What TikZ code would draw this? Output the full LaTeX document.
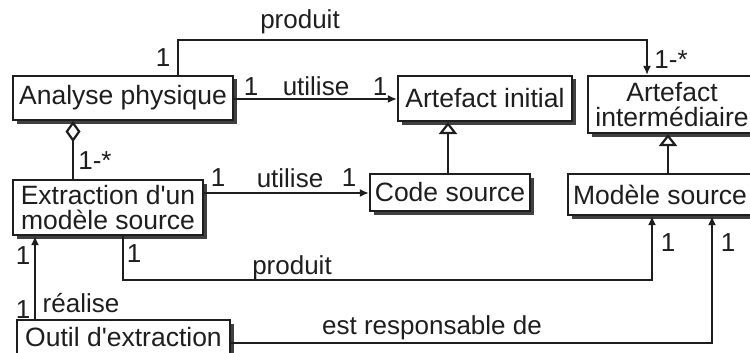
\documentclass[tikz,border=0pt]{standalone}
\usepackage{fontspec}
\setmainfont{Liberation Sans}
\usetikzlibrary{arrows.meta,shadows}
\definecolor{ink}{HTML}{1E1E1E}
\tikzset{
  box/.style={draw=ink, line width=2.1pt, fill=white, inner sep=1pt,
    font=\fontsize{26.5}{25}\selectfont, text=ink, align=center,
    drop shadow={shadow xshift=3.5pt, shadow yshift=-3.5pt, fill=black!75, opacity=1}},
  lbl/.style={font=\fontsize{26}{26}\selectfont, text=ink, inner sep=0pt},
  conn/.style={draw=ink, line width=2.2pt},
  arr/.style={conn, -{Latex[length=9pt,width=8pt]}},
  gen/.style={conn, -{Triangle[open,length=12pt,width=18pt,line width=2.2pt]}},
  agg/.style={conn, {Diamond[open,length=21pt,width=15pt,line width=2.2pt]}-},
}
\begin{document}
\begin{tikzpicture}[x=1pt,y=-1pt]
\useasboundingbox (0,0) rectangle (750,353);
% boxes
\node[box, minimum width=220pt, minimum height=44pt] (AP) at (123,98) {Analyse physique};
\node[box, minimum width=174pt, minimum height=45pt] (AI) at (485,98.5) {Artefact initial};
\node[box, minimum width=168pt, minimum height=57pt] (AInt) at (672,104.5) {Artefact\\intermédiaire};
\node[box, minimum width=190pt, minimum height=55pt] (EX) at (108,207.5) {Extraction d\textquotesingle un\\modèle source};
\node[box, minimum width=160pt, minimum height=37pt] (CS) at (450,192.5) {Code source};
\node[box, minimum width=184pt, minimum height=41pt] (MS) at (660,194.5) {Modèle source};
\node[box, minimum width=213pt, minimum height=34pt] (OE) at (123.5,337) {Outil d\textquotesingle extraction};
% corner coordinates
\coordinate (p1) at (178,40);
\coordinate (p2) at (647,40);
\coordinate (q1) at (123,280);
\coordinate (q2) at (652,280);
\coordinate (r1) at (712,343);
% produit (top)
\draw[arr] (178,0 |- AP.north) -- (p1) -- (p2) -- (647,0 |- AInt.north);
% utilise AP -> AI
\draw[arr] (AP.east |- 0,99) -- (AI.west |- 0,99);
% aggregation
\draw[agg] (73,0 |- AP.south) -- (73,0 |- EX.north);
% utilise EX -> CS
\draw[arr] (EX.east |- 0,193) -- (CS.west |- 0,193);
% generalizations
\draw[gen] (448,0 |- CS.north) -- (448,0 |- AI.south);
\draw[gen] (668,0 |- MS.north) -- (668,0 |- AInt.south);
% produit (bottom)
\draw[arr] (123,0 |- EX.south) -- (q1) -- (q2) -- (652,0 |- MS.south);
% est responsable de
\draw[arr] (OE.east |- r1) -- (r1) -- (712,0 |- MS.south);
% realise
\draw[arr] (35,0 |- OE.north) -- (35,0 |- EX.south);
% labels
\node[lbl] (l1) at (300,22) {produit};
\node[lbl] (l2) at (163,58) {1};
\node[lbl] (l3) at (671,60) {1-*};
\node[lbl] (l4) at (251,87) {1};
\node[lbl] (l5) at (316,86) {utilise};
\node[lbl] (l6) at (380,87) {1};
\node[lbl] (l7) at (95,161) {1-*};
\node[lbl] (l8) at (218,178) {1};
\node[lbl] (l9) at (290,178) {utilise};
\node[lbl] (l10) at (349,178) {1};
\node[lbl] (l11) at (134,254) {1};
\node[lbl] (l12) at (292,268) {produit};
\node[lbl] (l13) at (668,243) {1};
\node[lbl] (l14) at (728,243) {1};
\node[lbl] (l15) at (432,328) {est responsable de};
\node[lbl] (l16) at (23,256) {1};
\node[lbl] (l17) at (23,310) {1};
\node[lbl] (l18) at (81,303) {réalise};
\end{tikzpicture}
\end{document}
